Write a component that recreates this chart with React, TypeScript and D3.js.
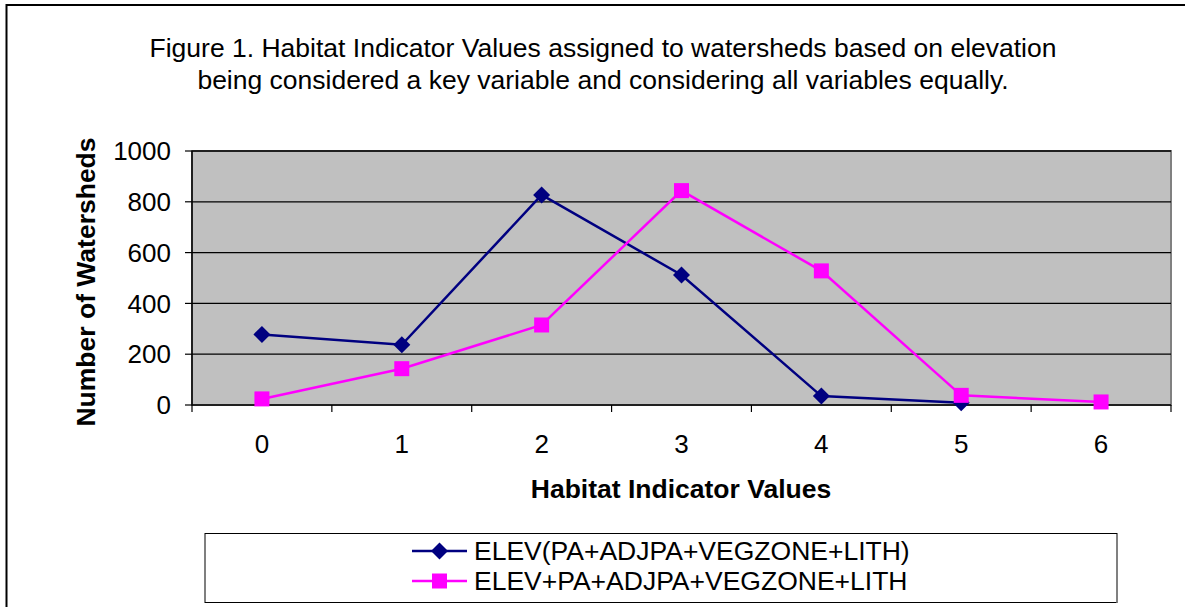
import React from "react";
import * as d3 from "d3";

// values
const categories = ["0", "1", "2", "3", "4", "5", "6"];
const elevKey = [278, 237, 827, 512, 35, 9];
const elevEqual = [24, 143, 315, 844, 528, 38, 12];
const yTicks = [0, 200, 400, 600, 800, 1000];
const seriesNames = ["ELEV(PA+ADJPA+VEGZONE+LITH)", "ELEV+PA+ADJPA+VEGZONE+LITH"];

const W = 1185, H = 607;
const plot = { left: 192, right: 1171, top: 151, bottom: 405 };
const font = "'Liberation Sans', Arial, sans-serif";

export default function App() {
  const x = d3.scaleBand().domain(categories).range([plot.left, plot.right]).padding(0);
  const y = d3.scaleLinear().domain([0, 1000]).range([plot.bottom, plot.top]);
  const cx = (i: number) => (x(categories[i]) as number) + x.bandwidth() / 2;

  const line = d3.line<number>().x((_, i) => cx(i)).y((d) => y(d));
  const diamond = (r: number) => `M0,${-r}L${r},0L0,${r}L${-r},0Z`;
  const square = (s: number) => `M${-s / 2},${-s / 2}h${s}v${s}h${-s}Z`;

  const bounds = d3.range(categories.length + 1).map((i) => plot.left + i * x.bandwidth());

  return (
    <svg width={W} height={H} style={{ position: "absolute", left: 0, top: 0 }} fontFamily={font}>
      <rect x={0} y={0} width={W} height={H} fill="#fff" />
      <rect x={6.5} y={5} width={1200} height={640} fill="none" stroke="#000" strokeWidth={2} />

      <text textAnchor="middle" fontSize={26.5} fill="#000">
        <tspan x={603} y={57}>Figure 1. Habitat Indicator Values assigned to watersheds based on elevation</tspan>
        <tspan x={603} y={89}>being considered a key variable and considering all variables equally.</tspan>
      </text>

      {/* plot area */}
      <rect x={plot.left} y={plot.top} width={plot.right - plot.left} height={plot.bottom - plot.top}
        fill="#c0c0c0" stroke="#808080" strokeWidth={2} />
      {yTicks.filter((t) => t > 0).map((t) => (
        <line key={t} x1={plot.left} x2={plot.right} y1={y(t)} y2={y(t)} stroke="#000" strokeWidth={1.3} />
      ))}
      <line x1={plot.left} x2={plot.left} y1={plot.top} y2={plot.bottom} stroke="#000" strokeWidth={1.5} />
      <line x1={plot.left} x2={plot.right} y1={plot.bottom} y2={plot.bottom} stroke="#000" strokeWidth={1.5} />

      {yTicks.map((t) => (
        <g key={t}>
          <line x1={plot.left - 7} x2={plot.left} y1={y(t)} y2={y(t)} stroke="#000" strokeWidth={1.2} />
          <text x={171} y={y(t)} dy="0.35em" textAnchor="end" fontSize={26}>{t}</text>
        </g>
      ))}
      {bounds.map((b, i) => (
        <line key={i} x1={b} x2={b} y1={plot.bottom} y2={plot.bottom + 7} stroke="#000" strokeWidth={1.2} />
      ))}
      {categories.map((c, i) => (
        <text key={c} x={cx(i)} y={444} dy="0.35em" textAnchor="middle" fontSize={26}>{c}</text>
      ))}

      <text x={681} y={489} dy="0.35em" textAnchor="middle" fontSize={26.5} fontWeight="bold">Habitat Indicator Values</text>
      <text transform="translate(86,282) rotate(-90)" dy="0.35em" textAnchor="middle" fontSize={26.5} fontWeight="bold">
        Number of Watersheds
      </text>

      {/* series */}
      <path d={line(elevKey) as string} fill="none" stroke="#000080" strokeWidth={2.5} />
      {elevKey.map((v, i) => (
        <path key={i} d={diamond(8.5)} transform={`translate(${cx(i)},${y(v)})`} fill="#000080" />
      ))}
      <path d={line(elevEqual) as string} fill="none" stroke="#ff00ff" strokeWidth={2.5} />
      {elevEqual.map((v, i) => (
        <path key={i} d={square(15)} transform={`translate(${cx(i)},${y(v)})`} fill="#ff00ff" />
      ))}

      {/* legend */}
      <rect x={205} y={533.5} width={912} height={69} fill="#fff" stroke="#000" strokeWidth={1} />
      <line x1={1117} x2={1117} y1={534} y2={603} stroke="#808080" strokeWidth={1.5} />
      <line x1={412} x2={467} y1={551} y2={551} stroke="#000080" strokeWidth={2.5} />
      <path d={diamond(8.5)} transform="translate(439.5,551)" fill="#000080" />
      <text x={474} y={551} dy="0.35em" fontSize={26.5}>{seriesNames[0]}</text>
      <line x1={412} x2={467} y1={581} y2={581} stroke="#ff00ff" strokeWidth={2.5} />
      <path d={square(15)} transform="translate(439.5,581)" fill="#ff00ff" />
      <text x={474} y={581} dy="0.35em" fontSize={26.5}>{seriesNames[1]}</text>
    </svg>
  );
}
